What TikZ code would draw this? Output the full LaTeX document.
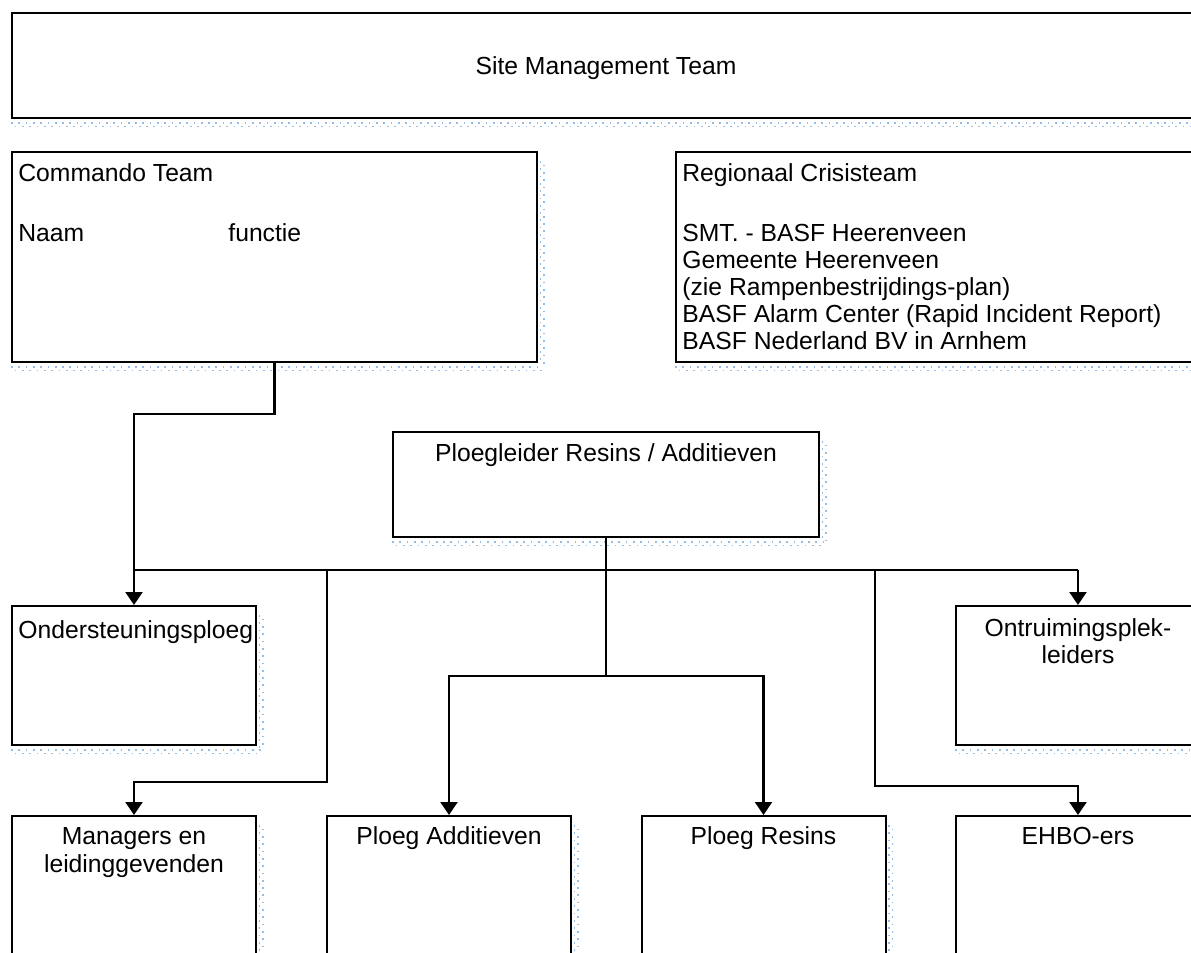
\documentclass[tikz,border=0pt]{standalone}
\usepackage{fontspec}
\setmainfont{Liberation Sans}
\usetikzlibrary{arrows.meta,calc}
\definecolor{shadowblue}{RGB}{150,188,234}
\newcommand{\shadowB}[1]{%
  \draw[shd] ($(#1.south west)+(0,4)$) -- ($(#1.south east)+(5,4)$);
  \draw[shd, dash phase=1.8pt] ($(#1.south west)+(0,7.5)$) -- ($(#1.south east)+(5,7.5)$);}
\newcommand{\shadowR}[1]{%
  \draw[shd] ($(#1.north east)+(2.5,10)$) -- ($(#1.south east)+(2.5,2)$);
  \draw[shd, dash phase=1.8pt] ($(#1.north east)+(6,10)$) -- ($(#1.south east)+(6,2)$);}
\begin{document}
\begin{tikzpicture}[x=0.5pt,y=-0.5pt,
  every node/.style={font=\fontsize{12.35pt}{13.5pt}\selectfont},
  orgbox/.style={draw, line width=1pt, fill=white, inner sep=0pt, rectangle},
  smallbox/.style={orgbox, minimum width=122pt, minimum height=69.5pt},
  bigbox/.style={orgbox, minimum width=262.5pt, minimum height=105pt},
  txt/.style={inner sep=0pt, anchor=base west},
  ctxt/.style={inner sep=0pt, anchor=base},
  link/.style={line width=1.1pt},
  arr/.style={link, -{Triangle[length=6.5pt,width=8.5pt]}},
  shd/.style={shadowblue, line width=0.85pt, dash pattern=on 0.85pt off 2.8pt},
]
\useasboundingbox (0,0) rectangle (1191,953);
\clip (0,0) rectangle (1191,953);

% boxes
\node[orgbox, minimum width=594pt, minimum height=52.5pt] (smt) at (606,65.5) {};
\node[bigbox] (cmd) at (274.5,257) {};
\node[bigbox] (rct) at (938.5,257) {};
\node[orgbox, minimum width=213pt, minimum height=52.5pt] (pl) at (606,484.5) {};
\node[smallbox] (ond) at (134,675.5) {};
\node[smallbox] (ontr) at (1078,675.5) {};
\node[smallbox] (mgr) at (134,885.5) {};
\node[smallbox] (padd) at (449,885.5) {};
\node[smallbox] (pres) at (763.5,885.5) {};
\node[smallbox] (ehbo) at (1078,885.5) {};

% shadows
\shadowB{smt}
\shadowB{cmd} \shadowR{cmd}
\shadowB{rct}
\shadowB{pl} \shadowR{pl}
\shadowB{ond} \shadowR{ond}
\shadowB{ontr}
\shadowR{mgr} \shadowR{padd} \shadowR{pres}

% texts
\node[ctxt] (smtt) at (606,75) {Site Management Team};
\node[txt] (cmdt) at (18,181) {Commando Team};
\node[txt] (naam) at (18,241) {Naam};
\node[txt] (func) at (228,241) {functie};
\node[txt] (rct1) at (682,181) {Regionaal Crisisteam};
\node[txt] (rct2) at (682,241) {SMT. - BASF Heerenveen};
\node[txt] (rct3) at (682,268) {Gemeente Heerenveen};
\node[txt] (rct4) at (682,295) {(zie Rampenbestrijdings-plan)};
\node[txt] (rct5) at (682,322) {BASF Alarm Center (Rapid Incident Report)};
\node[txt] (rct6) at (682,349) {BASF Nederland BV in Arnhem};
\node[ctxt] (plt) at (606,461) {Ploegleider Resins / Additieven};
\node[txt] (ondt) at (18,638) {Ondersteuningsploeg};
\node[ctxt] (ontr1) at (1078,636) {Ontruimingsplek-};
\node[ctxt] (ontr2) at (1078,663) {leiders};
\node[ctxt] (mgr1) at (134,844) {Managers en};
\node[ctxt] (mgr2) at (134,872) {leidinggevenden};
\node[ctxt] (paddt) at (449,844) {Ploeg Additieven};
\node[ctxt] (prest) at (763.5,844) {Ploeg Resins};
\node[ctxt] (ehbot) at (1078,844) {EHBO-ers};

% connectors
\coordinate (k1) at (273,414);
\draw[arr] (cmd.south) -- (cmd.south |- k1) -| (ond.north);
\coordinate (bus) at (606,570);
\draw[link] (pl.south) -- (bus);
\draw[link] (ond.north |- bus) -- (ontr.north |- bus);
\draw[arr] (ontr.north |- bus) -- (ontr.north);
\coordinate (b1) at (327,570);
\coordinate (k2) at (327,782);
\draw[arr] (b1) -- (k2) -| (mgr.north);
\coordinate (k3) at (606,676);
\draw[link] (bus) -- (k3);
\draw[arr] (k3) -| (padd.north);
\draw[arr] (k3) -| (pres.north);
\coordinate (b2) at (875,570);
\coordinate (k4) at (875,786);
\draw[arr] (b2) -- (k4) -| (ehbo.north);
\end{tikzpicture}
\end{document}
